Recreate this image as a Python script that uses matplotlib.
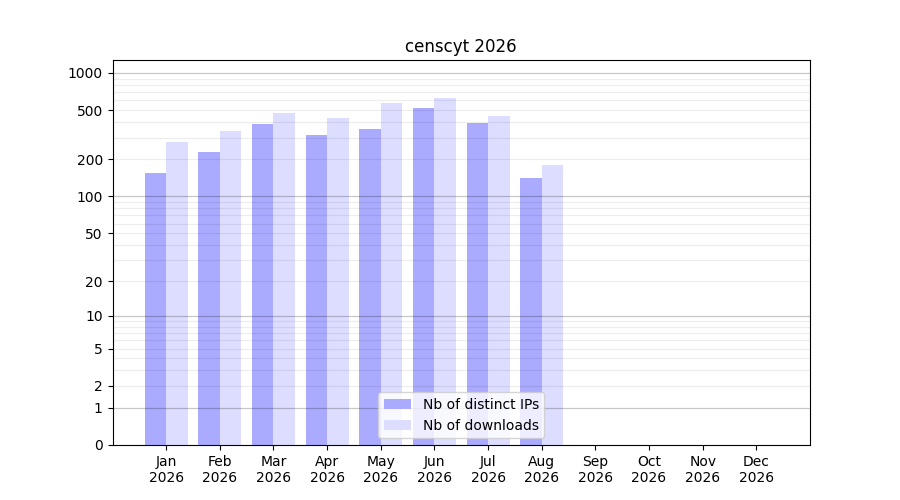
import numpy as np
import matplotlib
matplotlib.use("Agg")
import matplotlib.pyplot as plt

months = ["Jan", "Feb", "Mar", "Apr", "May", "Jun", "Jul", "Aug", "Sep", "Oct", "Nov", "Dec"]
year = "2026"
ips = [155, 229, 387, 315, 352, 521, 394, 141]
downloads = [277, 340, 475, 433, 572, 628, 449, 180]
yticks = [0, 1, 2, 5, 10, 20, 50, 100, 200, 500, 1000]

fig, ax = plt.subplots(figsize=(9, 5), dpi=100)
ax.set_yscale("function", functions=(lambda v: np.log10(1 + np.clip(v, 0, None)),
                                     lambda v: 10 ** v - 1))

x = np.arange(len(ips))
ax.bar(x - 0.2, ips, width=0.4, color="#aaaaff", label="Nb of distinct IPs", zorder=1)
ax.bar(x + 0.2, downloads, width=0.4, color="#ddddff", label="Nb of downloads", zorder=1)

# grid: decades darker, other integer multiples lighter
for d in [1, 10, 100, 1000]:
    ax.axhline(d, color="black", alpha=0.22, lw=0.9, zorder=2)
    if d < 1000:
        for m in range(2, 10):
            ax.axhline(d * m, color="black", alpha=0.07, lw=0.9, zorder=2)

ax.set_xlim(-1, 12)
ax.set_ylim(0, 1273)
ax.set_yticks(yticks)
ax.set_yticklabels([str(t) for t in yticks])
ax.minorticks_off()
ax.set_xticks(np.arange(len(months)))
ax.set_xticklabels([f"{m}\n{year}" for m in months])
ax.set_title("censcyt 2026")
ax.legend(loc="lower center")

fig.savefig("out.png")
